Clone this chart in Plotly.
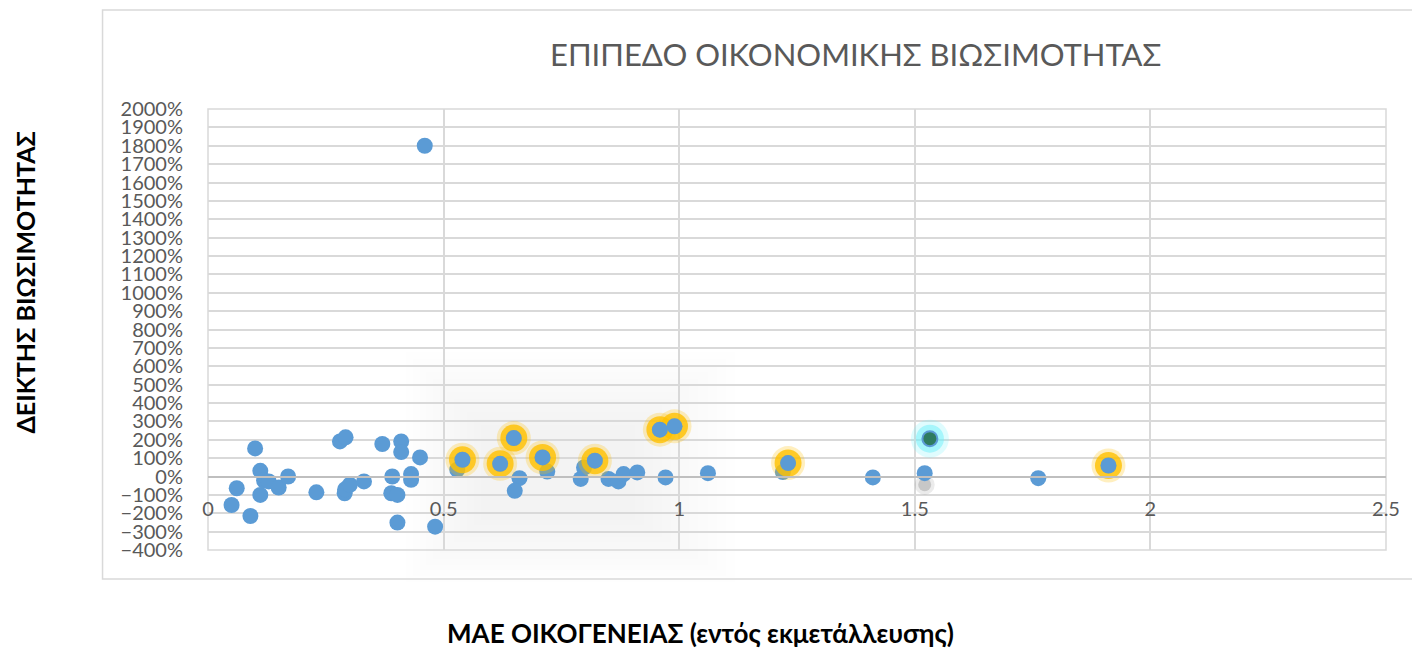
import plotly.graph_objects as go

# MAE (x) and viability index in % (y)
mae = [0.050, 0.061, 0.090, 0.100, 0.111, 0.111, 0.119, 0.129, 0.150, 0.170, 0.230,
       0.280, 0.292, 0.290, 0.291, 0.301, 0.331, 0.370, 0.391, 0.389, 0.402, 0.410,
       0.410, 0.402, 0.431, 0.431, 0.450, 0.460, 0.482,
       0.529, 0.540, 0.620, 0.649, 0.661, 0.651, 0.710, 0.720, 0.791, 0.798, 0.821,
       0.850, 0.871, 0.882, 0.911, 0.971, 0.959, 0.990, 1.061, 1.220, 1.231, 1.411,
       1.521, 1.762, 1.911]
index_pct = [-155, -64, -215, 153, 31, -100, -22, -27, -60, 0, -86,
             191, 213, -91, -70, -45, -27, 177, 0, -91, -100, 191,
             133, -251, 13, -18, 104, 1800, -273,
             37, 91, 69, 209, -9, -78, 104, 27, -13, 49, 86,
             -13, -27, 13, 22, -5, 255, 273, 18, 24, 73, -5,
             18, -9, 60]

# highlighted (yellow glow) points
hl_mae = [0.540, 0.620, 0.649, 0.710, 0.821, 0.959, 0.990, 1.231, 1.911]
hl_index = [91, 69, 209, 104, 86, 255, 273, 73, 60]

# selected (cyan glow) point
sel_mae = [1.532]
sel_index = [206]

# faint shadow mark
shadow_mae = [1.521]
shadow_index = [-45]

x_ticks = [0, 0.5, 1, 1.5, 2, 2.5]
x_tick_text = ["0", "0.5", "1", "1.5", "2", "2.5"]

BLUE = "#5B9BD5"
GRID = "#D9D9D9"
TXT = "#595959"
FONT = "Lato"

OFF = 8  # page body margin
FW, FH = 1420 - OFF, 648 - OFF

fig = go.Figure()

fig.add_trace(go.Scatter(x=shadow_mae, y=shadow_index, mode="markers",
                         marker=dict(size=20, color="rgba(90,90,90,0.12)", line=dict(width=0)),
                         hoverinfo="skip", showlegend=False, cliponaxis=False))
fig.add_trace(go.Scatter(x=shadow_mae, y=shadow_index, mode="markers",
                         marker=dict(size=13, color="rgba(90,90,90,0.25)", line=dict(width=0)),
                         hoverinfo="skip", showlegend=False, cliponaxis=False))
fig.add_trace(go.Scatter(x=mae, y=index_pct, mode="markers",
                         marker=dict(size=16, color=BLUE, line=dict(width=0)),
                         showlegend=False, cliponaxis=False))
# yellow glow layers
fig.add_trace(go.Scatter(x=hl_mae, y=hl_index, mode="markers",
                         marker=dict(size=34, color="rgba(255,192,0,0.25)", line=dict(width=0)),
                         hoverinfo="skip", showlegend=False))
fig.add_trace(go.Scatter(x=hl_mae, y=hl_index, mode="markers",
                         marker=dict(size=27, color="rgba(255,192,0,0.80)", line=dict(width=0)),
                         hoverinfo="skip", showlegend=False))
fig.add_trace(go.Scatter(x=hl_mae, y=hl_index, mode="markers",
                         marker=dict(size=16, color=BLUE, line=dict(width=0)),
                         showlegend=False))
# cyan glow
fig.add_trace(go.Scatter(x=sel_mae, y=sel_index, mode="markers",
                         marker=dict(size=38, color="rgba(110,240,250,0.22)", line=dict(width=0)),
                         hoverinfo="skip", showlegend=False))
fig.add_trace(go.Scatter(x=sel_mae, y=sel_index, mode="markers",
                         marker=dict(size=28, color="rgba(110,240,250,0.50)", line=dict(width=0)),
                         hoverinfo="skip", showlegend=False))
fig.add_trace(go.Scatter(x=sel_mae, y=sel_index, mode="markers",
                         marker=dict(size=15, color="#2E7B5F", line=dict(width=2, color=BLUE)),
                         showlegend=False))

# plot-area geometry in page pixels
L, R, T, B = 207.5, 1386, 109, 550
W, H = R - L, B - T


def px(xp):
    return (xp - L) / W


def py(yp):
    return (B - yp) / H


shapes = []
# soft grey haze
n = 12
for i in range(n):
    f = i / (n - 1)
    x0 = 405 + f * (480 - 405)
    x1 = 735 - f * (735 - 635)
    y0 = 352 + f * (425 - 352)
    y1 = 582 - f * (582 - 520)
    shapes.append(dict(type="rect", xref="paper", yref="paper", x0=px(x0), x1=px(x1),
                       y0=py(y1), y1=py(y0), fillcolor="rgba(0,0,0,0.0045)",
                       line=dict(width=0), layer="below"))
# plot area frame
shapes.append(dict(type="rect", xref="paper", yref="paper", x0=0, x1=1, y0=0, y1=1,
                   line=dict(color=GRID, width=1.5), layer="below"))
# chart border
shapes.append(dict(type="rect", xref="paper", yref="paper", x0=px(102), x1=px(1430),
                   y0=py(579), y1=py(10), line=dict(color=GRID, width=1.5), layer="below"))
fig.update_layout(shapes=shapes)

fig.update_layout(
    width=FW, height=FH,
    margin=dict(l=L - OFF, r=1420 - R, t=T - OFF, b=648 - B),
    paper_bgcolor="white", plot_bgcolor="white",
    font=dict(family=FONT, color=TXT),
    xaxis=dict(range=[0, 2.5], tickvals=x_ticks, ticktext=x_tick_text,
               showgrid=True, gridcolor=GRID, gridwidth=1.5,
               zeroline=False, showline=True, linecolor="#BFBFBF", linewidth=1.5,
               anchor="free", position=400 / 2400,
               ticks="outside", ticklen=15, tickcolor="rgba(0,0,0,0)",
               tickfont=dict(size=20, color=TXT, family=FONT)),
    yaxis=dict(range=[-400, 2000], dtick=100, ticksuffix="%",
               showgrid=True, gridcolor=GRID, gridwidth=1.5,
               zeroline=True, zerolinecolor="#BFBFBF", zerolinewidth=1.5,
               showline=False,
               ticks="outside", ticklen=20, tickcolor="rgba(0,0,0,0)",
               tickfont=dict(size=20, color=TXT, family=FONT)),
    annotations=[
        dict(text="ΕΠΙΠΕΔΟ ΟΙΚΟΝΟΜΙΚΗΣ ΒΙΩΣΙΜΟΤΗΤΑΣ", xref="paper", yref="paper",
             x=px(855), y=py(54), showarrow=False, xanchor="center", yanchor="middle",
             font=dict(size=31, color=TXT, family=FONT)),
        dict(text="<b>ΔΕΙΚΤΗΣ ΒΙΩΣΙΜΟΤΗΤΑΣ</b>", xref="paper", yref="paper",
             x=px(24), y=py(283), showarrow=False, xanchor="center", yanchor="middle",
             textangle=-90, font=dict(size=25, color="black", family=FONT)),
        dict(text="<b>ΜΑΕ ΟΙΚΟΓΕΝΕΙΑΣ (εντός εκμετάλλευσης)</b>", xref="paper", yref="paper",
             x=px(700), y=py(633), showarrow=False, xanchor="center", yanchor="middle",
             font=dict(size=26, color="black", family=FONT)),
    ],
)

fig.write_html("out.html")
